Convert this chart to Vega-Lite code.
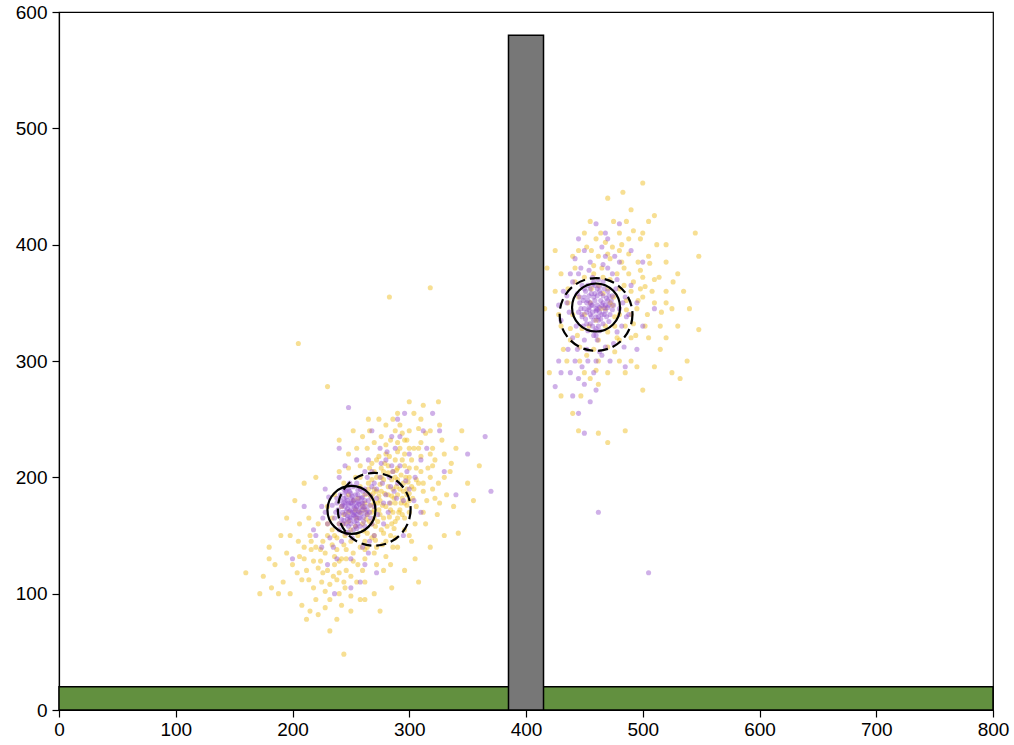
{
"$schema": "https://vega.github.io/schema/vega-lite/v6.json",
"width": 934, "height": 698,
"autosize": {"type": "none"},
"padding": {"left": 59, "top": 12, "right": 21, "bottom": 35},
"background": "white",
"config": {"view": {"stroke": "black", "strokeWidth": 1.2}},
"datasets": {
"rects": [{"x": 0, "x2": 800, "y": 0, "y2": 20, "k": "ground"}, {"x": 385, "x2": 415, "y": 0, "y2": 580, "k": "tower"}],
"solid": [{"x": 250.5, "y": 172}, {"x": 460, "y": 346}],
"dashed": [{"x": 270, "y": 172.5}, {"x": 460, "y": 340}],
"yel": [
{"x":268,"y":170},{"x":275,"y":180},{"x":260,"y":160},{"x":280,"y":175},{"x":255,"y":165},{"x":290,"y":185},{"x":270,"y":150},{"x":262,"y":178},{"x":285,"y":160},{"x":250,"y":155},
{"x":295,"y":195},{"x":272,"y":188},{"x":245,"y":150},{"x":278,"y":165},{"x":265,"y":195},{"x":288,"y":200},{"x":258,"y":140},{"x":300,"y":180},{"x":240,"y":160},{"x":282,"y":210},
{"x":268,"y":160},{"x":274,"y":172},{"x":256,"y":182},{"x":292,"y":172},{"x":262,"y":145},{"x":248,"y":170},{"x":286,"y":190},{"x":270,"y":205},{"x":300,"y":200},{"x":252,"y":135},
{"x":276,"y":155},{"x":266,"y":185},{"x":296,"y":210},{"x":244,"y":142},{"x":284,"y":178},{"x":258,"y":192},{"x":304,"y":190},{"x":236,"y":150},{"x":280,"y":220},{"x":262,"y":130},
{"x":290,"y":165},{"x":270,"y":178},{"x":254,"y":158},{"x":298,"y":176},{"x":246,"y":130},{"x":288,"y":215},{"x":264,"y":168},{"x":278,"y":198},{"x":242,"y":175},{"x":310,"y":205},
{"x":272,"y":140},{"x":260,"y":175},{"x":294,"y":182},{"x":250,"y":145},{"x":282,"y":185},{"x":268,"y":198},{"x":302,"y":215},{"x":238,"y":138},{"x":286,"y":170},{"x":256,"y":125},
{"x":276,"y":208},{"x":264,"y":152},{"x":292,"y":225},{"x":248,"y":162},{"x":280,"y":145},{"x":270,"y":190},{"x":306,"y":198},{"x":234,"y":155},{"x":290,"y":208},{"x":258,"y":170},
{"x":284,"y":150},{"x":266,"y":162},{"x":298,"y":190},{"x":244,"y":168},{"x":272,"y":215},{"x":262,"y":138},{"x":288,"y":178},{"x":252,"y":180},{"x":296,"y":165},{"x":240,"y":128},
{"x":220,"y":140},{"x":230,"y":120},{"x":310,"y":230},{"x":320,"y":210},{"x":215,"y":150},{"x":225,"y":110},{"x":240,"y":100},{"x":330,"y":220},{"x":300,"y":240},{"x":210,"y":130},
{"x":325,"y":195},{"x":235,"y":115},{"x":205,"y":145},{"x":315,"y":180},{"x":228,"y":135},{"x":245,"y":105},{"x":318,"y":240},{"x":232,"y":95},{"x":212,"y":120},{"x":335,"y":205},
{"x":222,"y":160},{"x":308,"y":225},{"x":238,"y":112},{"x":200,"y":125},{"x":328,"y":232},{"x":250,"y":115},{"x":218,"y":105},{"x":312,"y":170},{"x":226,"y":145},{"x":305,"y":160},
{"x":195,"y":135},{"x":322,"y":215},{"x":242,"y":90},{"x":230,"y":160},{"x":318,"y":200},{"x":208,"y":112},{"x":340,"y":225},{"x":236,"y":125},{"x":214,"y":165},{"x":300,"y":150},
{"x":255,"y":110},{"x":320,"y":190},{"x":224,"y":128},{"x":310,"y":250},{"x":198,"y":150},{"x":288,"y":240},{"x":246,"y":120},{"x":332,"y":185},{"x":216,"y":138},{"x":306,"y":175},
{"x":260,"y":120},{"x":298,"y":232},{"x":228,"y":102},{"x":326,"y":178},{"x":204,"y":118},{"x":292,"y":245},{"x":234,"y":142},{"x":312,"y":195},{"x":220,"y":95},{"x":284,"y":125},
{"x":272,"y":125},{"x":302,"y":145},{"x":262,"y":110},{"x":280,"y":132},{"x":296,"y":155},{"x":254,"y":200},{"x":244,"y":195},{"x":236,"y":185},{"x":270,"y":230},{"x":258,"y":210},
{"x":248,"y":208},{"x":276,"y":235},{"x":230,"y":175},{"x":290,"y":140},{"x":264,"y":225},{"x":314,"y":160},{"x":324,"y":168},{"x":206,"y":160},{"x":240,"y":205},{"x":278,"y":120},
{"x":160,"y":118},{"x":175,"y":115},{"x":182,"y":105},{"x":188,"y":100},{"x":172,"y":100},{"x":185,"y":125},{"x":192,"y":110},{"x":198,"y":100},{"x":208,"y":90},{"x":212,"y":78},
{"x":215,"y":85},{"x":222,"y":82},{"x":238,"y":78},{"x":244,"y":48},{"x":232,"y":68},{"x":250,"y":85},{"x":258,"y":95},{"x":205,"y":315},{"x":230,"y":278},{"x":240,"y":232},
{"x":283,"y":355},{"x":318,"y":363},{"x":360,"y":210},{"x":350,"y":195},{"x":345,"y":240},{"x":338,"y":175},{"x":355,"y":180},{"x":300,"y":265},{"x":312,"y":262},{"x":325,"y":265},
{"x":290,"y":255},{"x":265,"y":250},{"x":252,"y":240},{"x":262,"y":95},{"x":195,"y":165},{"x":202,"y":180},{"x":180,"y":140},{"x":190,"y":150},{"x":210,"y":195},{"x":220,"y":200},
{"x":342,"y":152},{"x":330,"y":150},{"x":305,"y":130},{"x":318,"y":140},{"x":270,"y":100},{"x":275,"y":85},{"x":285,"y":105},{"x":296,"y":120},{"x":308,"y":110},{"x":180,"y":130},
{"x":282,"y":192},{"x":290,"y":198},{"x":275,"y":168},{"x":298,"y":185},{"x":268,"y":182},{"x":286,"y":205},{"x":278,"y":152},{"x":294,"y":215},{"x":272,"y":200},{"x":302,"y":192},
{"x":262,"y":172},{"x":306,"y":208},{"x":284,"y":172},{"x":266,"y":208},{"x":296,"y":178},{"x":276,"y":188},{"x":288,"y":162},{"x":258,"y":200},{"x":310,"y":218},{"x":270,"y":165},
{"x":280,"y":228},{"x":292,"y":190},{"x":264,"y":140},{"x":300,"y":170},{"x":274,"y":218},{"x":254,"y":172},{"x":304,"y":225},{"x":286,"y":140},{"x":248,"y":185},{"x":296,"y":232},
{"x":268,"y":148},{"x":290,"y":222},{"x":256,"y":150},{"x":312,"y":188},{"x":278,"y":205},{"x":244,"y":160},{"x":300,"y":208},{"x":262,"y":185},{"x":284,"y":232},{"x":270,"y":135},
{"x":230,"y":150},{"x":236,"y":132},{"x":224,"y":138},{"x":240,"y":118},{"x":218,"y":128},{"x":232,"y":108},{"x":246,"y":138},{"x":214,"y":112},{"x":226,"y":118},{"x":252,"y":128},
{"x":210,"y":140},{"x":238,"y":148},{"x":222,"y":122},{"x":244,"y":110},{"x":234,"y":165},{"x":216,"y":145},{"x":250,"y":98},{"x":228,"y":88},{"x":206,"y":132},{"x":242,"y":130},
{"x":320,"y":225},{"x":316,"y":208},{"x":326,"y":245},{"x":314,"y":238},{"x":322,"y":182},{"x":308,"y":242},{"x":330,"y":200},{"x":304,"y":255},{"x":318,"y":220},{"x":336,"y":212},
{"x":290,"y":230},{"x":300,"y":225},{"x":280,"y":245},{"x":274,"y":250},{"x":260,"y":235},{"x":255,"y":225},{"x":248,"y":220},{"x":266,"y":240},{"x":286,"y":250},{"x":294,"y":238},
{"x":277,"y":176},{"x":283,"y":166},{"x":271,"y":158},{"x":289,"y":192},{"x":279,"y":186},{"x":293,"y":178},{"x":267,"y":176},{"x":285,"y":198},{"x":273,"y":162},{"x":297,"y":200},
{"x":281,"y":158},{"x":269,"y":186},{"x":287,"y":182},{"x":275,"y":194},{"x":291,"y":170},{"x":263,"y":164},{"x":295,"y":188},{"x":279,"y":212},{"x":271,"y":146},{"x":299,"y":196},
{"x":285,"y":184},{"x":273,"y":178},{"x":289,"y":206},{"x":265,"y":190},{"x":277,"y":142},{"x":293,"y":202},{"x":283,"y":218},{"x":303,"y":182},{"x":261,"y":154},{"x":287,"y":156},
{"x":308,"y":195},{"x":276,"y":200},{"x":294,"y":168},{"x":282,"y":204},{"x":268,"y":212},{"x":300,"y":186},{"x":288,"y":148},{"x":274,"y":184},{"x":296,"y":220},{"x":270,"y":172},
{"x":468,"y":345},{"x":475,"y":355},{"x":460,"y":335},{"x":480,"y":340},{"x":455,"y":350},{"x":490,"y":360},{"x":470,"y":325},{"x":462,"y":365},{"x":485,"y":330},{"x":450,"y":340},
{"x":495,"y":345},{"x":472,"y":370},{"x":445,"y":355},{"x":478,"y":320},{"x":465,"y":380},{"x":488,"y":375},{"x":458,"y":310},{"x":500,"y":355},{"x":440,"y":340},{"x":482,"y":385},
{"x":468,"y":330},{"x":474,"y":348},{"x":456,"y":362},{"x":492,"y":332},{"x":462,"y":318},{"x":448,"y":328},{"x":486,"y":352},{"x":470,"y":392},{"x":500,"y":372},{"x":452,"y":305},
{"x":476,"y":338},{"x":466,"y":358},{"x":496,"y":385},{"x":444,"y":322},{"x":484,"y":365},{"x":458,"y":375},{"x":504,"y":340},{"x":436,"y":350},{"x":480,"y":395},{"x":462,"y":300},
{"x":490,"y":320},{"x":470,"y":362},{"x":454,"y":330},{"x":498,"y":362},{"x":446,"y":312},{"x":488,"y":392},{"x":464,"y":345},{"x":478,"y":375},{"x":442,"y":368},{"x":510,"y":350},
{"x":510,"y":370},{"x":520,"y":360},{"x":505,"y":390},{"x":515,"y":330},{"x":430,"y":330},{"x":425,"y":360},{"x":520,"y":385},{"x":505,"y":320},{"x":435,"y":300},{"x":512,"y":400},
{"x":430,"y":375},{"x":500,"y":410},{"x":480,"y":410},{"x":460,"y":405},{"x":440,"y":390},{"x":525,"y":345},{"x":530,"y":375},{"x":515,"y":310},{"x":450,"y":290},{"x":470,"y":290},
{"x":490,"y":300},{"x":495,"y":295},{"x":520,"y":400},{"x":535,"y":360},{"x":428,"y":340},{"x":438,"y":318},{"x":445,"y":395},{"x":455,"y":285},{"x":485,"y":290},{"x":510,"y":295},
{"x":540,"y":345},{"x":530,"y":330},{"x":505,"y":420},{"x":475,"y":420},{"x":450,"y":410},{"x":432,"y":310},{"x":520,"y":320},{"x":498,"y":405},{"x":462,"y":280},{"x":480,"y":300},
{"x":470,"y":440},{"x":483,"y":445},{"x":500,"y":453},{"x":545,"y":410},{"x":548,"y":327},{"x":548,"y":390},{"x":525,"y":290},{"x":532,"y":285},{"x":470,"y":230},{"x":485,"y":240},
{"x":462,"y":238},{"x":447,"y":270},{"x":440,"y":255},{"x":430,"y":270},{"x":420,"y":290},{"x":416,"y":345},{"x":418,"y":380},{"x":425,"y":395},{"x":455,"y":420},{"x":490,"y":430},
{"x":510,"y":425},{"x":538,"y":300},{"x":500,"y":275},{"x":445,"y":240},
{"x":472,"y":350},{"x":480,"y":362},{"x":466,"y":372},{"x":486,"y":344},{"x":476,"y":330},{"x":492,"y":368},{"x":458,"y":382},{"x":496,"y":352},{"x":470,"y":312},{"x":484,"y":380},
{"x":462,"y":390},{"x":502,"y":364},{"x":450,"y":372},{"x":490,"y":340},{"x":474,"y":398},{"x":508,"y":360},{"x":480,"y":318},{"x":456,"y":395},{"x":498,"y":378},{"x":468,"y":402},
{"x":514,"y":372},{"x":488,"y":405},{"x":442,"y":380},{"x":506,"y":384},{"x":476,"y":308},{"x":520,"y":350},{"x":452,"y":398},{"x":494,"y":322},{"x":482,"y":400},{"x":464,"y":410},
{"x":436,"y":362},{"x":526,"y":368},{"x":492,"y":412},{"x":446,"y":300},{"x":516,"y":342},{"x":472,"y":388},{"x":502,"y":330},{"x":460,"y":292},{"x":486,"y":420},{"x":438,"y":328}
],
"pur": [
{"x":250,"y":172},{"x":255,"y":175},{"x":245,"y":168},{"x":252,"y":180},{"x":258,"y":165},{"x":248,"y":178},{"x":260,"y":172},{"x":242,"y":175},{"x":253,"y":162},{"x":256,"y":185},
{"x":246,"y":160},{"x":262,"y":180},{"x":250,"y":165},{"x":244,"y":182},{"x":257,"y":170},{"x":249,"y":188},{"x":264,"y":168},{"x":240,"y":168},{"x":254,"y":158},{"x":259,"y":178},
{"x":247,"y":173},{"x":251,"y":184},{"x":261,"y":162},{"x":243,"y":160},{"x":255,"y":168},{"x":248,"y":190},{"x":266,"y":176},{"x":238,"y":178},{"x":252,"y":155},{"x":258,"y":190},
{"x":245,"y":175},{"x":263,"y":170},{"x":250,"y":178},{"x":256,"y":160},{"x":241,"y":185},{"x":267,"y":184},{"x":253,"y":170},{"x":246,"y":152},{"x":260,"y":188},{"x":249,"y":163},
{"x":270,"y":175},{"x":236,"y":165},{"x":255,"y":195},{"x":244,"y":190},{"x":262,"y":158},{"x":251,"y":148},{"x":268,"y":192},{"x":240,"y":155},{"x":257,"y":182},{"x":247,"y":167},
{"x":251,"y":170},{"x":254,"y":173},{"x":248,"y":176},{"x":252,"y":168},{"x":257,"y":177},{"x":246,"y":171},{"x":253,"y":181},{"x":249,"y":166},{"x":259,"y":169},{"x":244,"y":178},
{"x":255,"y":163},{"x":250,"y":186},{"x":262,"y":175},{"x":242,"y":164},{"x":256,"y":179},{"x":248,"y":158},{"x":260,"y":183},{"x":245,"y":187},{"x":264,"y":172},{"x":239,"y":172},
{"x":252,"y":176},{"x":258,"y":174},{"x":247,"y":180},{"x":254,"y":166},{"x":243,"y":170},{"x":261,"y":166},{"x":250,"y":160},{"x":256,"y":189},{"x":241,"y":180},{"x":265,"y":180},
{"x":253,"y":174},{"x":249,"y":171},{"x":257,"y":165},{"x":246,"y":183},{"x":260,"y":178},{"x":244,"y":163},{"x":252,"y":192},{"x":263,"y":186},{"x":238,"y":182},{"x":255,"y":156},
{"x":251,"y":178},{"x":247,"y":164},{"x":259,"y":182},{"x":243,"y":176},{"x":254,"y":185},{"x":266,"y":170},{"x":248,"y":153},{"x":256,"y":171},{"x":240,"y":160},{"x":262,"y":190},
{"x":253,"y":167},{"x":250,"y":182},{"x":258,"y":158},{"x":245,"y":179},{"x":261,"y":174},{"x":249,"y":195},{"x":267,"y":165},{"x":237,"y":170},{"x":255,"y":178},{"x":246,"y":188},
{"x":275,"y":200},{"x":280,"y":185},{"x":230,"y":160},{"x":285,"y":210},{"x":265,"y":215},{"x":225,"y":175},{"x":290,"y":195},{"x":270,"y":150},{"x":235,"y":140},{"x":300,"y":220},
{"x":282,"y":170},{"x":240,"y":200},{"x":295,"y":180},{"x":260,"y":140},{"x":275,"y":225},{"x":220,"y":150},{"x":305,"y":200},{"x":288,"y":225},{"x":250,"y":130},{"x":228,"y":190},
{"x":310,"y":215},{"x":268,"y":205},{"x":232,"y":148},{"x":298,"y":205},{"x":278,"y":160},{"x":245,"y":210},{"x":292,"y":235},{"x":262,"y":125},{"x":284,"y":192},{"x":238,"y":130},
{"x":300,"y":190},{"x":272,"y":182},{"x":226,"y":165},{"x":286,"y":205},{"x":255,"y":215},{"x":315,"y":225},{"x":242,"y":145},{"x":280,"y":215},{"x":265,"y":135},{"x":304,"y":180},
{"x":272,"y":190},{"x":278,"y":178},{"x":268,"y":160},{"x":283,"y":200},{"x":234,"y":176},{"x":276,"y":212},{"x":287,"y":188},{"x":231,"y":183},{"x":264,"y":200},{"x":273,"y":168},
{"x":281,"y":222},{"x":292,"y":210},{"x":262,"y":205},{"x":270,"y":195},{"x":289,"y":182},{"x":277,"y":195},{"x":266,"y":145},{"x":228,"y":170},{"x":297,"y":197},{"x":283,"y":178},
{"x":248,"y":260},{"x":290,"y":250},{"x":320,"y":255},{"x":268,"y":240},{"x":340,"y":185},{"x":350,"y":220},{"x":365,"y":235},{"x":370,"y":188},{"x":310,"y":170},{"x":230,"y":125},
{"x":225,"y":140},{"x":200,"y":130},{"x":210,"y":175},{"x":218,"y":155},{"x":258,"y":110},{"x":272,"y":118},{"x":295,"y":150},{"x":330,"y":205},{"x":326,"y":240},{"x":296,"y":255},
{"x":236,"y":100},{"x":250,"y":105},{"x":285,"y":235},{"x":240,"y":225},{"x":312,"y":240},
{"x":460,"y":345},{"x":455,"y":350},{"x":465,"y":340},{"x":458,"y":355},{"x":462,"y":335},{"x":452,"y":342},{"x":468,"y":348},{"x":450,"y":355},{"x":463,"y":360},{"x":457,"y":330},
{"x":470,"y":352},{"x":448,"y":338},{"x":461,"y":348},{"x":455,"y":362},{"x":466,"y":332},{"x":453,"y":326},{"x":472,"y":340},{"x":446,"y":350},{"x":459,"y":365},{"x":464,"y":352},
{"x":456,"y":338},{"x":462,"y":370},{"x":470,"y":360},{"x":445,"y":342},{"x":458,"y":322},{"x":467,"y":346},{"x":451,"y":360},{"x":474,"y":356},{"x":460,"y":328},{"x":454,"y":346},
{"x":448,"y":365},{"x":466,"y":368},{"x":463,"y":342},{"x":457,"y":372},{"x":471,"y":334},{"x":449,"y":330},{"x":475,"y":348},{"x":444,"y":358},{"x":461,"y":318},{"x":453,"y":352},
{"x":460,"y":343},{"x":457,"y":348},{"x":463,"y":346},{"x":459,"y":352},{"x":462,"y":338},{"x":454,"y":344},{"x":466,"y":350},{"x":452,"y":350},{"x":461,"y":356},{"x":458,"y":335},
{"x":468,"y":343},{"x":450,"y":345},{"x":456,"y":358},{"x":464,"y":336},{"x":455,"y":332},{"x":470,"y":346},{"x":449,"y":352},{"x":461,"y":362},{"x":466,"y":356},{"x":457,"y":342},
{"x":463,"y":364},{"x":471,"y":356},{"x":447,"y":345},{"x":459,"y":326},{"x":465,"y":348},{"x":453,"y":365},{"x":473,"y":352},{"x":462,"y":330},{"x":456,"y":348},{"x":451,"y":336},
{"x":467,"y":362},{"x":460,"y":338},{"x":458,"y":368},{"x":469,"y":338},{"x":448,"y":340},{"x":474,"y":344},{"x":446,"y":355},{"x":460,"y":322},{"x":454,"y":356},{"x":464,"y":358},
{"x":461,"y":344},{"x":455,"y":340},{"x":459,"y":358},{"x":467,"y":340},{"x":452,"y":332},{"x":471,"y":348},{"x":450,"y":362},{"x":463,"y":326},{"x":457,"y":366},{"x":469,"y":354},
{"x":440,"y":320},{"x":435,"y":350},{"x":478,"y":370},{"x":482,"y":330},{"x":445,"y":375},{"x":470,"y":380},{"x":452,"y":310},{"x":485,"y":355},{"x":430,"y":335},{"x":465,"y":305},
{"x":442,"y":300},{"x":475,"y":315},{"x":455,"y":385},{"x":438,"y":375},{"x":488,"y":340},{"x":448,"y":295},{"x":468,"y":390},{"x":432,"y":360},{"x":480,"y":385},{"x":460,"y":300},
{"x":450,"y":395},{"x":490,"y":365},{"x":436,"y":310},{"x":472,"y":300},{"x":442,"y":388},{"x":495,"y":350},{"x":458,"y":290},{"x":484,"y":312},{"x":428,"y":348},{"x":465,"y":398},
{"x":443,"y":330},{"x":477,"y":362},{"x":480,"y":345},{"x":447,"y":380},{"x":474,"y":375},{"x":450,"y":318},{"x":483,"y":350},{"x":437,"y":342},{"x":468,"y":312},{"x":444,"y":310},
{"x":478,"y":325},{"x":454,"y":378},{"x":440,"y":368},{"x":486,"y":338},{"x":453,"y":300},{"x":466,"y":383},{"x":435,"y":356},{"x":476,"y":390},{"x":463,"y":308},{"x":445,"y":285},
{"x":440,"y":270},{"x":450,"y":280},{"x":455,"y":265},{"x":445,"y":255},{"x":460,"y":275},{"x":438,"y":290},{"x":430,"y":290},{"x":425,"y":278},{"x":470,"y":405},{"x":480,"y":418},
{"x":468,"y":410},{"x":490,"y":395},{"x":500,"y":385},{"x":460,"y":418},{"x":445,"y":405},{"x":505,"y":118},{"x":462,"y":170},{"x":450,"y":238},{"x":428,"y":300},{"x":510,"y":345},
{"x":500,"y":330},{"x":495,"y":310},{"x":485,"y":295}
]},
"encoding": {
  "x": {"field": "x", "type": "quantitative", "scale": {"domain": [0, 800], "nice": false, "zero": false}, "axis": {"values": [0,100,200,300,400,500,600,700,800], "title": null, "grid": false, "labelFlush": false, "labelFont": "Liberation Sans", "labelFontSize": 19, "labelColor": "black", "tickColor": "black", "domainColor": "black", "tickSize": 7, "tickWidth": 1.2, "domainWidth": 1.2, "labelPadding": 3}},
  "y": {"field": "y", "type": "quantitative", "scale": {"domain": [0, 600], "nice": false, "zero": false}, "axis": {"values": [0,100,200,300,400,500,600], "title": null, "grid": false, "labelFlush": false, "labelFont": "Liberation Sans", "labelFontSize": 19, "labelColor": "black", "tickColor": "black", "domainColor": "black", "tickSize": 7, "tickWidth": 1.2, "domainWidth": 1.2, "labelPadding": 5}}
},
"layer": [
  {"data": {"name": "yel"}, "mark": {"type": "point", "shape": "circle", "filled": true, "size": 26, "color": "#f0c028", "opacity": 0.5, "strokeWidth": 0}},
  {"data": {"name": "pur"}, "mark": {"type": "point", "shape": "circle", "filled": true, "size": 26, "color": "#9550cc", "opacity": 0.45, "strokeWidth": 0}},
  {"data": {"name": "solid"}, "mark": {"type": "point", "shape": "circle", "filled": false, "size": 2304, "color": "black", "opacity": 1, "strokeWidth": 2.2}},
  {"data": {"name": "dashed"}, "mark": {"type": "point", "shape": "circle", "filled": false, "size": 5300, "color": "black", "opacity": 1, "strokeWidth": 2.2, "strokeDash": [10, 5]}},
  {"data": {"name": "rects"}, "mark": {"type": "rect", "stroke": "black", "strokeWidth": 1.5},
   "encoding": {"x2": {"field": "x2"}, "y2": {"field": "y2"},
     "color": {"field": "k", "type": "nominal", "scale": {"domain": ["ground", "tower"], "range": ["#62903f", "#777777"]}, "legend": null}}}
]
}
